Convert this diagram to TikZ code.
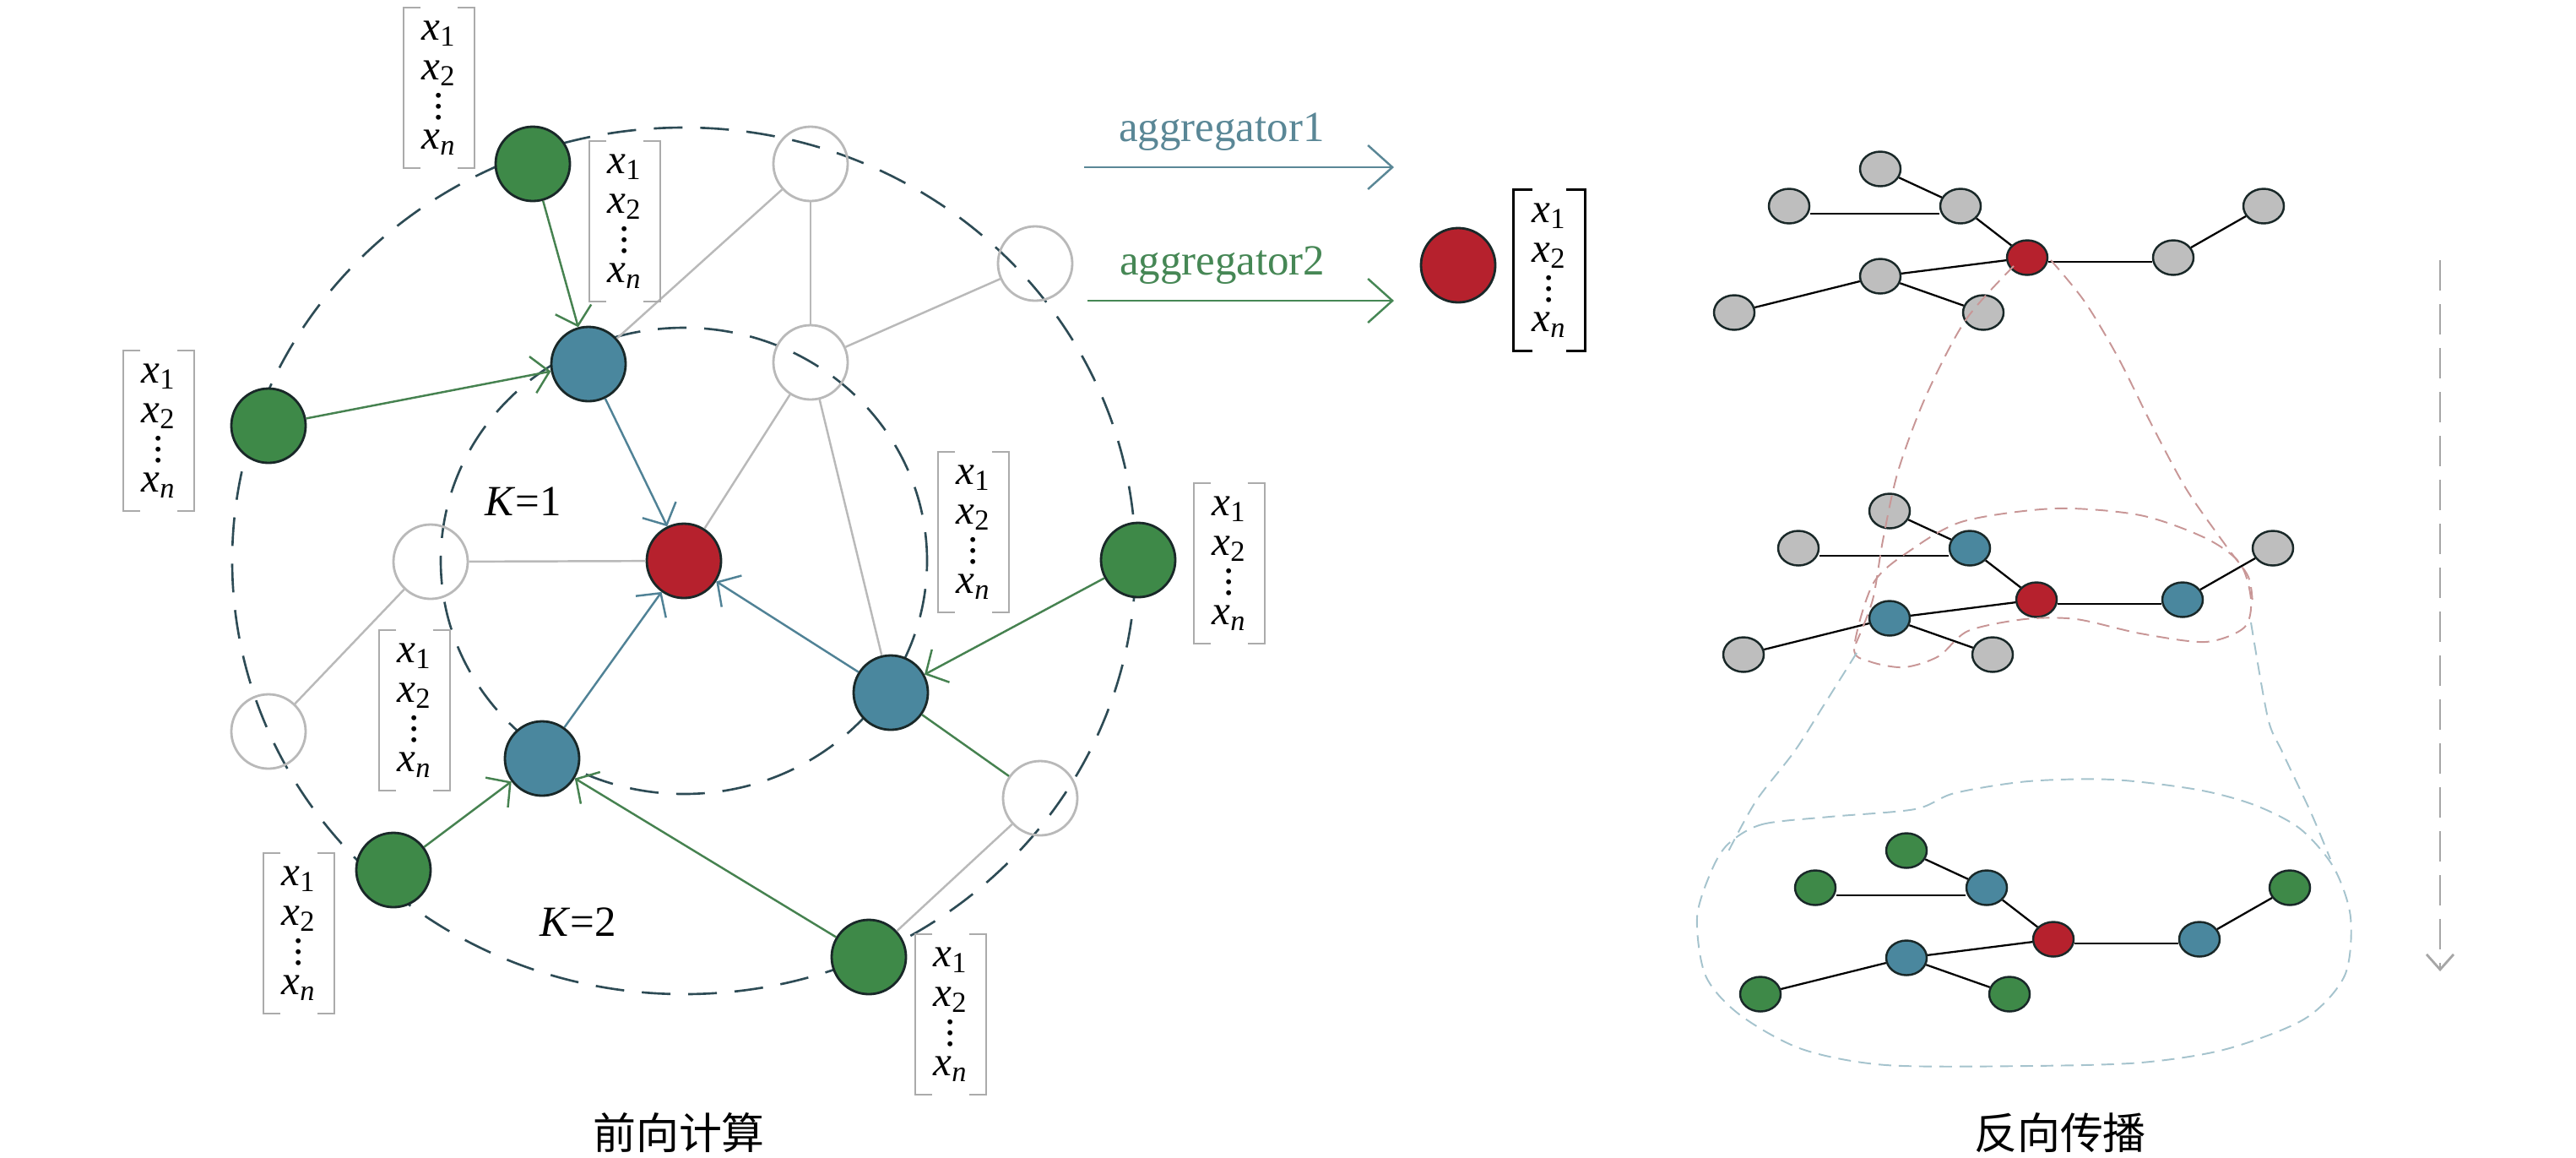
\documentclass[tikz,border=0pt]{standalone}
\usepackage{fontspec}
\setmainfont{Liberation Serif}
\newfontfamily\cjk{Noto Sans CJK SC}
\usetikzlibrary{arrows.meta,shapes.geometric}

\definecolor{nodegreen}{RGB}{62,137,72}
\definecolor{nodeblue}{RGB}{74,135,158}
\definecolor{nodered}{RGB}{182,33,45}
\definecolor{nodegray}{RGB}{190,190,190}
\definecolor{nodeline}{RGB}{25,40,40}
\definecolor{edgegreen}{RGB}{70,130,80}
\definecolor{edgeblue}{RGB}{80,130,150}
\definecolor{edgegray}{RGB}{185,185,185}
\definecolor{ringcol}{RGB}{45,75,85}
\definecolor{aggblue}{RGB}{90,135,150}
\definecolor{agggreen}{RGB}{70,135,85}
\definecolor{pinkdash}{RGB}{200,150,150}
\definecolor{bluedash}{RGB}{165,195,205}

\newcommand{\fx}[1]{\textit{x}\textsubscript{#1}}
\newcommand{\tdots}{\vbox{\baselineskip=3.6pt\lineskiplimit=-20pt\hbox{.}\hbox{.}\hbox{.}}}
\newcommand{\feats}{\fx{1}\\\fx{2}\\\tdots\\[-3.5pt]\fx{\textit{n}}}

\tikzstyle{big} = [circle, draw=nodeline, line width=0.8pt, minimum size=0.88cm, inner sep=0pt]
\tikzstyle{gn} = [big, fill=nodegreen]
\tikzstyle{bn} = [big, fill=nodeblue]
\tikzstyle{rn} = [big, fill=nodered]
\tikzstyle{wn} = [big, draw=edgegray]
\tikzstyle{small} = [ellipse, draw=nodeline, line width=0.7pt, minimum width=0.48cm, minimum height=0.41cm, inner sep=0pt]
\tikzstyle{gline} = [draw=edgegray, line width=0.7pt]
\tikzstyle{greenline} = [draw=edgegreen, line width=0.7pt]
\tikzstyle{garrow} = [greenline, -{Straight Barb[length=0.2cm,width=0.44cm]}]
\tikzstyle{barrow} = [draw=edgeblue, line width=0.7pt, -{Straight Barb[length=0.2cm,width=0.44cm]}]
\tikzstyle{tline} = [draw=black, line width=0.65pt]
\tikzstyle{ring} = [draw=ringcol, line width=0.75pt, dash pattern=on 0.34cm off 0.21cm]
\tikzstyle{pinkline} = [draw=pinkdash, line width=0.55pt, dash pattern=on 0.15cm off 0.09cm]
\tikzstyle{blueline} = [draw=bluedash, line width=0.55pt, dash pattern=on 0.15cm off 0.09cm]
\tikzstyle{lbl} = [inner sep=0pt, font=\fontsize{14.5}{16}\selectfont]
\tikzstyle{feat} = [inner sep=0pt, minimum width=0.82cm, minimum height=1.88cm, align=center,
  font=\fontsize{14}{13.4}\selectfont,
  append after command={\pgfextra{\let\featnode\tikzlastnode
    \draw[draw=nodegray!90!black, line width=0.6pt]
      ([xshift=0.2cm]\featnode.north west) -| (\featnode.south west) -- ++(0.2,0)
      ([xshift=-0.2cm]\featnode.north east) -| (\featnode.south east) -- ++(-0.2,0);}}]
\tikzstyle{featout} = [inner sep=0pt, minimum width=0.83cm, minimum height=1.9cm, align=center,
  font=\fontsize{14}{13.4}\selectfont,
  append after command={\pgfextra{\let\featnode\tikzlastnode
    \draw[draw=black, line width=0.9pt]
      ([xshift=0.22cm]\featnode.north west) -| (\featnode.south west) -- ++(0.22,0)
      ([xshift=-0.22cm]\featnode.north east) -| (\featnode.south east) -- ++(-0.22,0);}}]

\begin{document}
\begin{tikzpicture}
	\useasboundingbox (0,0) rectangle (30.51,-13.70);
	% K=1 and K=2 rings
	\draw[ring] (8.10,-6.64) ellipse [x radius=5.35, y radius=5.13];
	\draw[ring] (8.10,-6.64) ellipse [x radius=2.88, y radius=2.76];

	% forward graph
	\node (ctr) at (8.10,-6.64) [rn] {};
	\node (b1) at (6.97,-4.31) [bn] {};
	\node (b2) at (6.42,-8.98) [bn] {};
	\node (b3) at (10.55,-8.20) [bn] {};
	\node (g1) at (6.31,-1.94) [gn] {};
	\node (g2) at (3.18,-5.04) [gn] {};
	\node (g3) at (4.66,-10.30) [gn] {};
	\node (g4) at (13.48,-6.63) [gn] {};
	\node (g5) at (10.29,-11.33) [gn] {};
	\node (w1) at (9.60,-1.94) [wn] {};
	\node (w2) at (9.60,-4.29) [wn] {};
	\node (w3) at (12.26,-3.12) [wn] {};
	\node (w4) at (5.10,-6.65) [wn] {};
	\node (w5) at (3.18,-8.66) [wn] {};
	\node (w6) at (12.32,-9.45) [wn] {};
	\path[gline](w1) -- (w2);
	\path[gline](w1) -- (b1);
	\path[gline](w2) -- (w3);
	\path[gline](w2) -- (ctr);
	\path[gline](w2) -- (b3);
	\path[gline](w4) -- (ctr);
	\path[gline](w4) -- (w5);
	\path[gline](w6) -- (g5);
	\path[greenline](b3) -- (w6);
	\path[garrow](g1) -- (b1);
	\path[garrow](g2) -- (b1);
	\path[garrow](g3) -- (b2);
	\path[garrow](g5) -- (b2);
	\path[garrow](g4) -- (b3);
	\path[barrow](b1) -- (ctr);
	\path[barrow](b2) -- (ctr);
	\path[barrow](b3) -- (ctr);

	% feature vectors
	\node (v1) at (5.20,-1.04) [feat] {\feats};
	\node (v2) at (7.40,-2.62) [feat] {\feats};
	\node (v3) at (1.88,-5.10) [feat] {\feats};
	\node (v4) at (4.91,-8.41) [feat] {\feats};
	\node (v5) at (3.54,-11.05) [feat] {\feats};
	\node (v6) at (11.53,-6.30) [feat] {\feats};
	\node (v7) at (14.56,-6.67) [feat] {\feats};
	\node (v8) at (11.26,-12.01) [feat] {\feats};
	\node (k1) at (6.20,-5.94) [lbl] {\textit{K}=1};
	\node (k2) at (6.85,-10.92) [lbl] {\textit{K}=2};

	% aggregators and output
	\coordinate (a1s) at (12.84,-1.98);
	\coordinate (a1e) at (16.51,-1.98);
	\coordinate (a2s) at (12.88,-3.56);
	\coordinate (a2e) at (16.51,-3.56);
	\draw[draw=aggblue, line width=0.7pt, -{Straight Barb[length=0.29cm,width=0.52cm]}] (a1s) -- (a1e)
		node[lbl, pos=0.444, yshift=0.42cm, text=aggblue] (agg1) {aggregator1};
	\draw[draw=agggreen, line width=0.7pt, -{Straight Barb[length=0.29cm,width=0.52cm]}] (a2s) -- (a2e)
		node[lbl, pos=0.44, yshift=0.42cm, text=agggreen] (agg2) {aggregator2};
	\node (out) at (17.27,-3.14) [rn] {};
	\node (vout) at (18.35,-3.20) [featout] {\feats};

	% backward graphs
	\foreach \p/\dx/\dy/\cin/\cout in {t/0/0/nodegray/nodegray, m/0.11/-4.05/nodeblue/nodegray, b/0.31/-8.07/nodeblue/nodegreen} {
		\begin{scope}[shift={(\dx,\dy)}]
			\node (\p-r) at (24.01,-3.05) [small, fill=nodered] {};
			\node (\p-a) at (22.27,-2.00) [small, fill=\cout] {};
			\node (\p-b) at (21.19,-2.44) [small, fill=\cout] {};
			\node (\p-c) at (23.22,-2.44) [small, fill=\cin] {};
			\node (\p-d) at (22.27,-3.27) [small, fill=\cin] {};
			\node (\p-e) at (20.54,-3.70) [small, fill=\cout] {};
			\node (\p-f) at (23.49,-3.70) [small, fill=\cout] {};
			\node (\p-g) at (25.74,-3.05) [small, fill=\cin] {};
			\node (\p-h) at (26.81,-2.44) [small, fill=\cout] {};
			\path[tline](\p-a) -- (\p-c);
			\path[tline]([yshift=-0.09cm]\p-b.east) -- ([yshift=-0.09cm]\p-c.west);
			\path[tline](\p-c) -- (\p-r);
			\path[tline](\p-d) -- (\p-r);
			\path[tline](\p-e) -- (\p-d);
			\path[tline](\p-d) -- (\p-f);
			\path[tline]([yshift=-0.05cm]\p-r.east) -- ([yshift=-0.05cm]\p-g.west);
			\path[tline](\p-g) -- (\p-h);
		\end{scope}
	}
	% receptive fields
	\draw[pinkline] plot[smooth] coordinates {(23.85,-3.15) (23.28,-3.79) (22.81,-4.69) (22.48,-5.58) (22.30,-6.40) (22.18,-7.10) (21.98,-7.62)};
	\draw[pinkline] plot[smooth] coordinates {(24.29,-3.08) (24.69,-3.57) (25.09,-4.24) (25.49,-5.04) (25.90,-5.80) (26.37,-6.47) (26.63,-6.83) (26.68,-7.17)};
	\draw[pinkline] plot[smooth cycle] coordinates {(21.96,-7.67) (22.19,-6.90) (22.65,-6.50) (23.26,-6.17) (24.34,-6.02) (25.35,-6.10) (26.12,-6.37) (26.53,-6.67) (26.66,-7.10) (26.58,-7.43) (26.12,-7.60) (25.35,-7.50) (24.59,-7.33) (23.98,-7.33) (23.31,-7.47) (22.96,-7.77) (22.55,-7.90) (22.14,-7.83)};
	\draw[blueline] plot[smooth] coordinates {(21.99,-7.73) (21.60,-8.35) (21.25,-8.90) (20.80,-9.48) (20.47,-10.08)};
	\draw[blueline] plot[smooth] coordinates {(26.66,-7.37) (26.86,-8.50) (27.03,-8.90) (27.37,-9.62) (27.60,-10.17)};
	\draw[blueline] plot[smooth cycle] coordinates {(20.47,-9.99) (20.87,-9.76) (21.67,-9.67) (22.68,-9.58) (23.15,-9.39) (24.02,-9.25) (25.02,-9.23) (26.03,-9.35) (26.70,-9.53) (27.24,-9.81) (27.64,-10.27) (27.84,-10.86) (27.77,-11.55) (27.30,-12.06) (26.37,-12.42) (25.36,-12.58) (24.02,-12.62) (22.34,-12.61) (21.34,-12.42) (20.60,-12.01) (20.20,-11.55) (20.10,-10.86) (20.27,-10.31)};
	\coordinate (bp1) at (28.90,-3.08);
	\coordinate (bp2) at (28.90,-11.50);
	\draw[draw=edgegray!90!black, line width=0.8pt, dash pattern=on 0.36cm off 0.16cm, -{Straight Barb[length=0.18cm,width=0.32cm]}] (bp1) -- (bp2);

	% captions
	\node (fwd) at (8.04,-13.41) [lbl, font=\cjk\fontsize{14.5}{16}\selectfont] {前向计算};
	\node (bwd) at (24.40,-13.41) [lbl, font=\cjk\fontsize{14.5}{16}\selectfont] {反向传播};
\end{tikzpicture}
\end{document}
